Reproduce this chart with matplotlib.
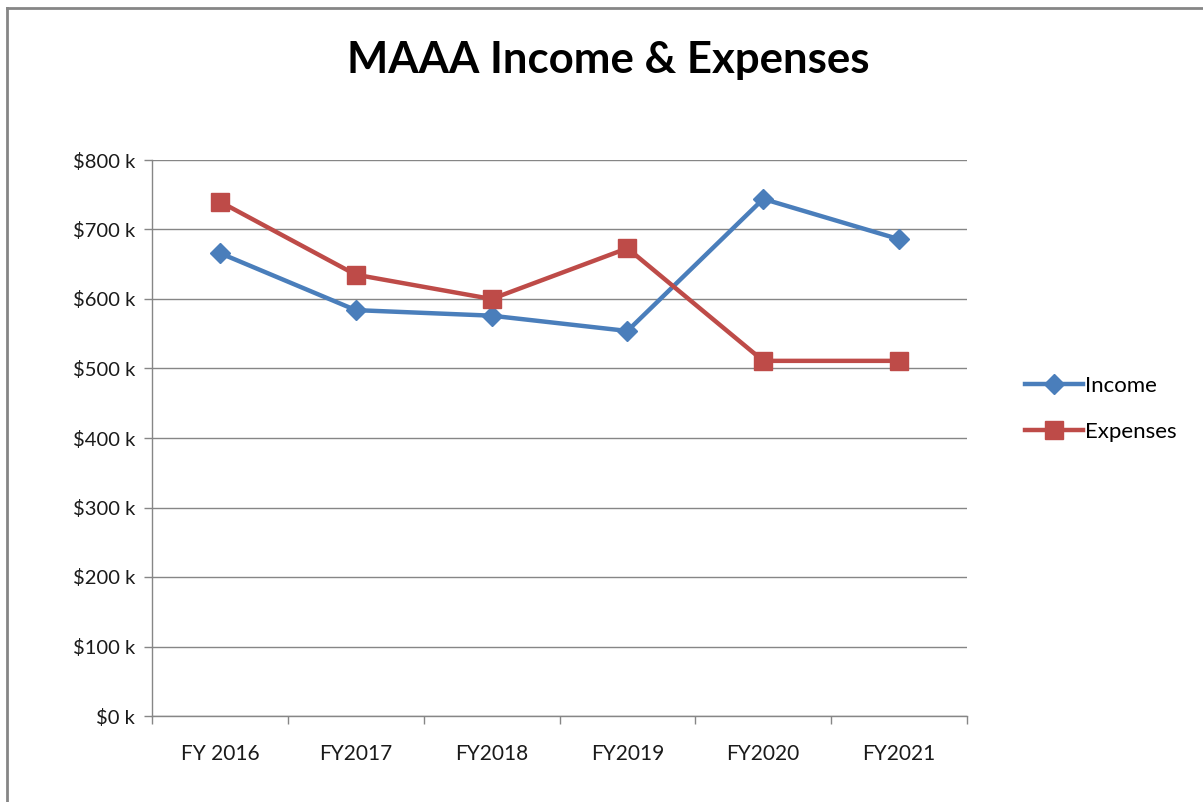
import matplotlib
matplotlib.use("Agg")
import matplotlib.pyplot as plt
from matplotlib.lines import Line2D

categories = ["FY 2016", "FY2017", "FY2018", "FY2019", "FY2020", "FY2021"]
income = [666, 584, 576, 554, 744, 686]
expenses = [740, 635, 600, 673, 511, 511]
yticks = [0, 100, 200, 300, 400, 500, 600, 700, 800]
ytick_labels = [f"${v} k" for v in yticks]

plt.rcParams['font.family'] = ['Lato', 'DejaVu Sans']

W, H = 1203, 802
fig = plt.figure(figsize=(W / 100, H / 100), dpi=100)
ax = fig.add_axes([152 / W, 1 - 716 / H, (967 - 152) / W, (716 - 160) / H])

x = list(range(len(categories)))
blue = "#4A7EBB"
red = "#BE4B48"
ax.plot(x, income, color=blue, lw=3.2, marker="D", ms=10, label="Income", zorder=3)
ax.plot(x, expenses, color=red, lw=3.2, marker="s", ms=13, label="Expenses", zorder=3)

ax.set_xlim(-0.5, len(categories) - 0.5)
ax.set_ylim(0, 800)
ax.set_yticks(yticks)
ax.set_yticklabels(ytick_labels, fontsize=14.5, color="#1a1a1a")
ax.set_xticks(x)
ax.set_xticklabels(categories, fontsize=15, color="#1a1a1a")
ax.set_xticks([i - 0.5 for i in range(len(categories) + 1)], minor=True)
ax.tick_params(axis="x", which="major", length=0, pad=20)
ax.tick_params(axis="x", which="minor", length=6, color="#868686", width=1)
ax.tick_params(axis="y", length=6, color="#868686", width=1, pad=6)

ax.grid(axis="y", color="#868686", lw=1, zorder=0)
ax.set_axisbelow(True)
for s in ["top", "right"]:
    ax.spines[s].set_visible(False)
for s in ["left", "bottom"]:
    ax.spines[s].set_color("#868686")
    ax.spines[s].set_linewidth(1)

fig.text(608 / W, 1 - 60 / H, "MAAA Income & Expenses", ha="center", va="center",
         fontsize=31.5, fontweight="bold", color="#000000")

leg = ax.legend(loc="center left", bbox_to_anchor=(1005 / W, 1 - 409 / H),
                bbox_transform=fig.transFigure, frameon=False, fontsize=16,
                handlelength=2.6, handletextpad=0.1, labelspacing=1.15)

# outer border (top and left)
fig.add_artist(Line2D([7 / W, 7 / W], [0, 1 - 7.5 / H], transform=fig.transFigure,
                      color="#868686", lw=2))
fig.add_artist(Line2D([7 / W, 1], [1 - 7.5 / H, 1 - 7.5 / H], transform=fig.transFigure,
                      color="#868686", lw=2))

fig.savefig("out.png", dpi=100)
